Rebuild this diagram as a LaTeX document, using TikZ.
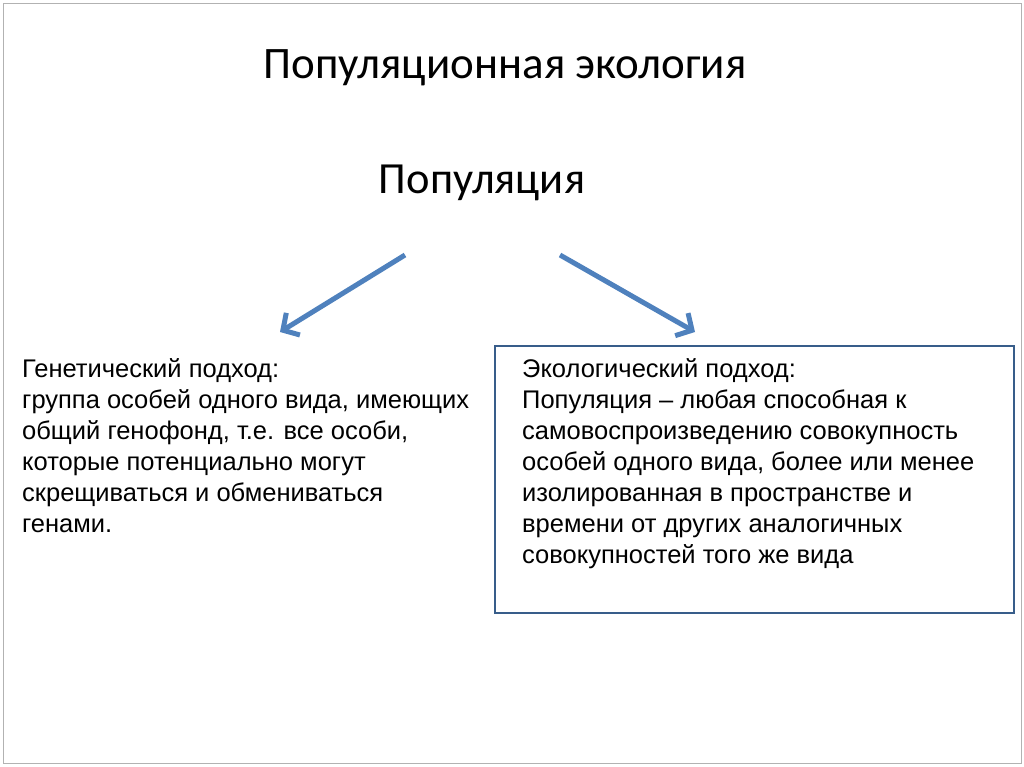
\documentclass[tikz,border=0pt]{standalone}
\usepackage{fontspec}
\setmainfont{Liberation Sans}
\newfontfamily\titlefont{Carlito}
\usetikzlibrary{arrows.meta}
\definecolor{arr}{HTML}{4F81BD}
\definecolor{boxc}{HTML}{385D8A}
\tikzset{
 body/.style={anchor=north west,align=left,font=\fontsize{25.5}{31}\selectfont,inner sep=0pt},
 bigarrow/.style={draw=arr,line width=5pt,-{Straight Barb[length=12pt,width=26pt,line width=5pt]}}
}
\begin{document}
\begin{tikzpicture}[x=1pt,y=-1pt]
\useasboundingbox (0,0) rectangle (1024,767);
\draw[gray!60,line width=0.8pt] (3,3) rectangle (1021,763);
\node[font=\titlefont\fontsize{45}{50}\selectfont] (t) at (505,68) {Популяционная экология};
\node[font=\titlefont\fontsize{44.5}{50}\selectfont] (p) at (482,183) {Популяция};
\coordinate (ls) at (405,255); \coordinate (le) at (280,332);
\coordinate (rs) at (560,255); \coordinate (re) at (695,332);
\draw[bigarrow] (ls) -- (le);
\draw[bigarrow] (rs) -- (re);
\node[body] (gen) at (22,358) {Генетический подход:\\группа особей одного вида, имеющих\\общий генофонд, т.е. все особи,\\которые потенциально могут\\скрещиваться и обмениваться\\генами.};
\draw[boxc,line width=2.5pt] (495,346) rectangle (1014,613);
\node[body] (eco) at (522,358) {Экологический подход:\\Популяция – любая способная к\\самовоспроизведению совокупность\\особей одного вида, более или менее\\изолированная в пространстве и\\времени от других аналогичных\\совокупностей того же вида};
\end{tikzpicture}
\end{document}
